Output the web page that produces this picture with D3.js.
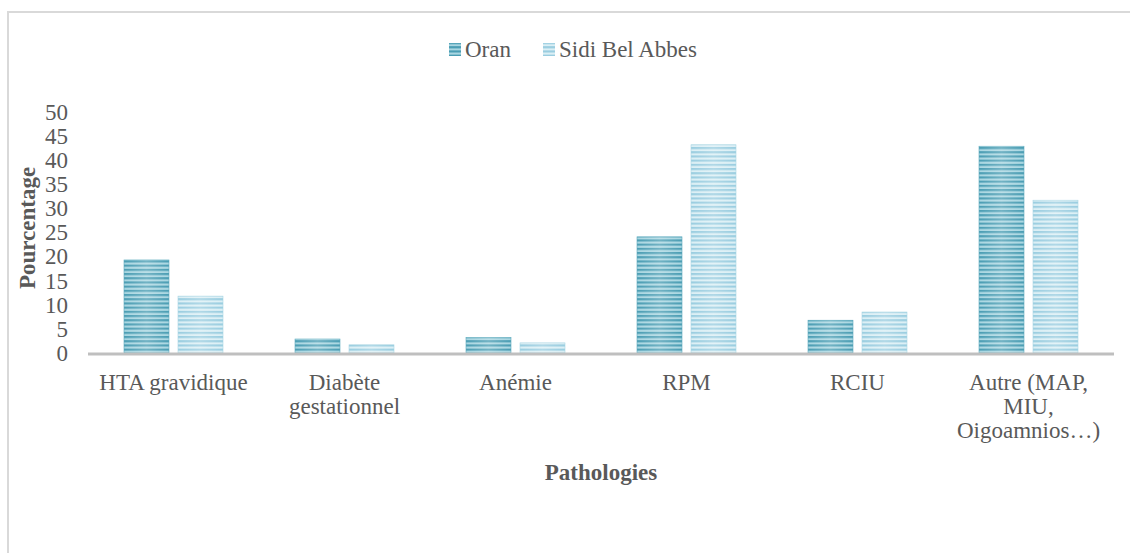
<!DOCTYPE html>
<html>
<head>
<meta charset="utf-8">
<script src="https://cdn.jsdelivr.net/npm/d3@7"></script>
<style>
  html, body { margin: 0; padding: 0; background: #fff; }
  svg { display: block; }
</style>
</head>
<body>
<svg id="chart" width="1130" height="553"></svg>
<script>
// Pathologies observed, percentage per city
const categories = [
  ["HTA gravidique"],
  ["Diabète", "gestationnel"],
  ["Anémie"],
  ["RPM"],
  ["RCIU"],
  ["Autre (MAP,", "MIU,", "Oigoamnios…)"]
];
const seriesNames = ["Oran", "Sidi Bel Abbes"];
const oran = [19.3, 2.9, 3.2, 24.1, 6.8, 42.9];
const sidiBelAbbes = [11.8, 1.7, 2.1, 43.2, 8.5, 31.7];
const yTicks = [0, 5, 10, 15, 20, 25, 30, 35, 40, 45, 50];

const FONT = "'Liberation Serif', 'DejaVu Serif', serif";
const TEXT = "#595959";
const FS = "23px";

const svg = d3.select("#chart")
  .attr("font-family", FONT)
  .style("font-family", FONT);
const W = 1130, H = 553;

// striped fills for each series
const defs = svg.append("defs");
const stripes = [
  { id: "pat-oran", dark: "#4a9db3", light: "#a9d6e1" },
  { id: "pat-sba", dark: "#9acde0", light: "#dbeff5" }
];
stripes.forEach(s => {
  const p = defs.append("pattern")
    .attr("id", s.id)
    .attr("patternUnits", "userSpaceOnUse")
    .attr("width", 8).attr("height", 4.2);
  p.append("rect").attr("width", 8).attr("height", 4.2).attr("fill", s.light);
  p.append("rect").attr("y", 0).attr("width", 8).attr("height", 2.1).attr("fill", s.dark);
});
// soft horizontal sheen across the bars
const g = defs.append("linearGradient").attr("id", "sheen").attr("x1", 0).attr("x2", 1).attr("y1", 0).attr("y2", 0);
g.append("stop").attr("offset", "0%").attr("stop-color", "#fff").attr("stop-opacity", 0);
g.append("stop").attr("offset", "50%").attr("stop-color", "#fff").attr("stop-opacity", 0.22);
g.append("stop").attr("offset", "100%").attr("stop-color", "#fff").attr("stop-opacity", 0);

// chart frame
svg.append("path")
  .attr("d", `M8,${H} V12 H${W}`)
  .attr("fill", "none")
  .attr("stroke", "#d9d9d9")
  .attr("stroke-width", 2);

const plotLeft = 88, plotRight = 1114;
const x0 = d3.scaleBand().domain(d3.range(categories.length)).range([plotLeft, plotRight]).paddingInner(0).paddingOuter(0);
const barW = 45, gap = 9;
const y = d3.scaleLinear().domain([0, 50]).range([353, 112]);

// y tick labels
svg.append("g").selectAll("text")
  .data(yTicks).join("text")
  .attr("x", 68)
  .attr("y", d => y(d))
  .attr("dy", "0.34em")
  .attr("text-anchor", "end")
  .attr("fill", TEXT)
  .style("font-size", FS)
  .text(d => d);

// bars
const series = [
  { values: oran, fill: "url(#pat-oran)", edge: "#5aa9bd" },
  { values: sidiBelAbbes, fill: "url(#pat-sba)", edge: "#a8d5e3" }
];
series.forEach((s, si) => {
  const grp = svg.append("g");
  s.values.forEach((v, i) => {
    const cx = x0(i) + x0.bandwidth() / 2;
    const bx = si === 0 ? cx - gap / 2 - barW : cx + gap / 2;
    grp.append("rect")
      .attr("x", bx).attr("y", y(v))
      .attr("width", barW).attr("height", y(0) - y(v))
      .attr("fill", s.fill)
      .attr("stroke", s.edge).attr("stroke-width", 0.6);
    grp.append("rect")
      .attr("x", bx).attr("y", y(v))
      .attr("width", barW).attr("height", y(0) - y(v))
      .attr("fill", "url(#sheen)");
  });
});

// baseline
svg.append("line")
  .attr("x1", plotLeft).attr("x2", plotRight)
  .attr("y1", 354).attr("y2", 354)
  .attr("stroke", "#bfbfbf").attr("stroke-width", 3);

// category labels
const cat = svg.append("g");
categories.forEach((lines, i) => {
  const t = cat.append("text")
    .attr("text-anchor", "middle")
    .attr("fill", TEXT)
    .style("font-size", FS);
  lines.forEach((ln, k) => {
    t.append("tspan")
      .attr("x", x0(i) + x0.bandwidth() / 2)
      .attr("y", 390 + k * 24)
      .text(ln);
  });
});

// axis titles
svg.append("text")
  .attr("transform", "translate(35,228) rotate(-90)")
  .attr("text-anchor", "middle")
  .attr("fill", TEXT)
  .style("font-size", FS)
  .style("font-weight", "bold")
  .text("Pourcentage");

svg.append("text")
  .attr("x", 601).attr("y", 480)
  .attr("text-anchor", "middle")
  .attr("fill", TEXT)
  .style("font-size", FS)
  .style("font-weight", "bold")
  .text("Pathologies");

// legend
const legend = svg.append("g");
const legendItems = [
  { name: seriesNames[0], fill: "url(#pat-oran)", x: 449 },
  { name: seriesNames[1], fill: "url(#pat-sba)", x: 543 }
];
legendItems.forEach(it => {
  legend.append("rect")
    .attr("x", it.x).attr("y", 43)
    .attr("width", 12).attr("height", 13)
    .attr("fill", it.fill);
  legend.append("text")
    .attr("x", it.x + 16).attr("y", 57)
    .attr("fill", TEXT)
    .style("font-size", FS)
    .text(it.name);
});
</script>
</body>
</html>
